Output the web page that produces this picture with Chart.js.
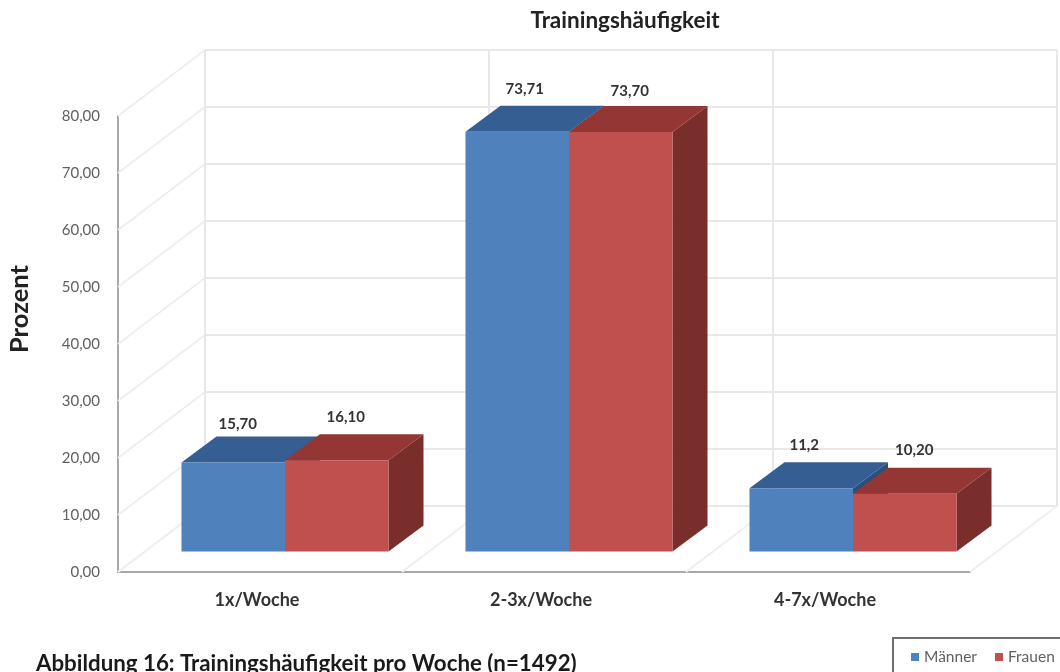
<!DOCTYPE html>
<html lang="de">
<head>
<meta charset="utf-8">
<title>Trainingshäufigkeit</title>
<style>
  html, body { margin: 0; padding: 0; background: #fff; }
  canvas { display: block; }
</style>
<script src="https://cdn.jsdelivr.net/npm/chart.js@4/dist/chart.umd.min.js"></script>
</head>
<body>
<canvas id="chart" width="1060" height="672"></canvas>
<script>
// Values per training frequency
const categories = ['1x/Woche', '2-3x/Woche', '4-7x/Woche'];
const maenner = [15.7, 73.71, 11.2];
const frauen = [16.1, 73.7, 10.2];
const maennerLabels = ['15,70', '73,71', '11,2'];
const frauenLabels = ['16,10', '73,70', '10,20'];

const chartTitle = 'Trainingshäufigkeit';
const yTitle = 'Prozent';
const caption = 'Abbildung 16: Trainingshäufigkeit pro Woche (n=1492)';

// Hand-placed data label offsets from the top centre of each bar's front face
const maennerNudge = [[4.5, -38.5], [7.5, -43], [3, -43]];
const frauenNudge = [[9, -43.5], [9, -41], [9.5, -43.5]];

// Oblique projection: wall depth, and the plane the bar fronts stand on
const WALL = { dx: 87, dy: -66 };
const BAR_PLANE = { dx: 25, dy: -20 };
const BAR_DEPTH = { dx: 35, dy: -26 };

const SHADES = [
  { front: '#4f81bd', top: '#355f92', side: '#2c4f7c' },
  { front: '#c0504d', top: '#943634', side: '#7a2e2c' }
];
const GRID = '#e8e8e8';
const GRID_SIDE = '#efefef';
const AXIS = '#a8a8a8';
const TEXT_DARK = '#333333';
const TEXT_MID = '#616161';
const FONT = 'Lato, Carlito, "Open Sans", sans-serif';

function line(ctx, x1, y1, x2, y2) {
  ctx.beginPath();
  ctx.moveTo(x1, y1);
  ctx.lineTo(x2, y2);
  ctx.stroke();
}

function poly(ctx, pts, fill) {
  ctx.fillStyle = fill;
  ctx.beginPath();
  pts.forEach((p, i) => (i ? ctx.lineTo(p[0], p[1]) : ctx.moveTo(p[0], p[1])));
  ctx.closePath();
  ctx.fill();
}

// Back wall, side wall and floor grid
const wallsPlugin = {
  id: 'walls',
  beforeDatasetsDraw(chart) {
    const { ctx, scales: { x, y } } = chart;
    const boundary = i => x.left + (x.width * i) / categories.length;
    ctx.save();
    ctx.lineWidth = 2;
    y.ticks.forEach(t => {
      const py = y.getPixelForValue(t.value);
      ctx.strokeStyle = GRID_SIDE;
      line(ctx, x.left, py, x.left + WALL.dx, py + WALL.dy);
      ctx.strokeStyle = GRID;
      line(ctx, x.left + WALL.dx, py + WALL.dy, x.right + WALL.dx, py + WALL.dy);
    });
    categories.concat(['']).forEach((_, i) => {
      const px = boundary(i);
      ctx.strokeStyle = GRID_SIDE;
      line(ctx, px, y.bottom, px + WALL.dx, y.bottom + WALL.dy);
      ctx.strokeStyle = GRID;
      line(ctx, px + WALL.dx, y.bottom + WALL.dy, px + WALL.dx, y.top + WALL.dy);
    });
    ctx.restore();
  }
};

// Top and side faces of the bars; fronts are left to the bar controller
const extrudePlugin = {
  id: 'extrude',
  beforeDatasetsDraw(chart) {
    const { ctx } = chart;
    ctx.save();
    ctx.translate(BAR_PLANE.dx, BAR_PLANE.dy);
    chart.data.datasets.forEach((ds, d) => {
      chart.getDatasetMeta(d).data.forEach(bar => {
        const { x, y, base, width } = bar.getProps(['x', 'y', 'base', 'width'], true);
        const l = x - width / 2, r = x + width / 2;
        const { dx, dy } = BAR_DEPTH;
        poly(ctx, [[r, y], [r + dx, y + dy], [r + dx, base + dy], [r, base]], SHADES[d].side);
        poly(ctx, [[l, y], [r, y], [r + dx, y + dy], [l + dx, y + dy]], SHADES[d].top);
      });
    });
    ctx.restore();
    // Shift the bar fronts onto the same plane as their extrusions
    ctx.save();
    ctx.translate(BAR_PLANE.dx, BAR_PLANE.dy);
  },
  afterDatasetsDraw(chart) {
    chart.ctx.restore();
  }
};

// Title, axis title, data labels, caption and legend box
const textPlugin = {
  id: 'texts',
  afterDraw(chart) {
    const { ctx } = chart;
    ctx.save();
    ctx.textBaseline = 'middle';

    ctx.textAlign = 'center';
    ctx.fillStyle = '#222222';
    ctx.font = 'bold 22.5px ' + FONT;
    ctx.fillText(chartTitle, 625, 21);

    ctx.save();
    ctx.translate(20, 309);
    ctx.rotate(-Math.PI / 2);
    ctx.font = 'bold 25.5px ' + FONT;
    ctx.fillText(yTitle, 0, 0);
    ctx.restore();

    const sets = [[maennerLabels, maennerNudge], [frauenLabels, frauenNudge]];
    ctx.font = 'bold 15px ' + FONT;
    ctx.fillStyle = TEXT_DARK;
    sets.forEach(([labels, nudge], d) => {
      chart.getDatasetMeta(d).data.forEach((bar, i) => {
        const { x, y } = bar.getProps(['x', 'y'], true);
        ctx.fillText(labels[i], x + BAR_PLANE.dx + nudge[i][0], y + BAR_PLANE.dy + nudge[i][1]);
      });
    });

    ctx.textAlign = 'left';
    ctx.textBaseline = 'alphabetic';
    ctx.fillStyle = '#1a1a1a';
    ctx.font = 'bold 22.3px ' + FONT;
    ctx.fillText(caption, 36, 671);

    // Legend frame runs off the lower right corner of the page
    ctx.fillStyle = '#ffffff';
    ctx.fillRect(893, 638, 170, 40);
    ctx.strokeStyle = '#6e6e6e';
    ctx.lineWidth = 2;
    ctx.strokeRect(893, 638, 170, 40);

    const swatchX = [911, 995];
    ctx.textBaseline = 'middle';
    ctx.font = '15.5px ' + FONT;
    chart.data.datasets.forEach((ds, d) => {
      ctx.fillStyle = ds.backgroundColor;
      ctx.fillRect(swatchX[d], 653, 8, 8);
      ctx.fillStyle = TEXT_MID;
      ctx.fillText(ds.label, swatchX[d] + 13, 657);
    });
    ctx.restore();
  }
};

new Chart(document.getElementById('chart'), {
  type: 'bar',
  data: {
    labels: categories,
    datasets: [
      { label: 'Männer', data: maenner, backgroundColor: SHADES[0].front, clip: false },
      { label: 'Frauen', data: frauen, backgroundColor: SHADES[1].front, clip: false }
    ]
  },
  options: {
    responsive: false,
    animation: false,
    events: [],
    layout: { padding: { top: 116, right: 90, bottom: 0, left: 0 } },
    datasets: { bar: { categoryPercentage: 0.729, barPercentage: 1 } },
    plugins: { legend: { display: false }, title: { display: false }, tooltip: { enabled: false } },
    scales: {
      x: {
        afterFit(scale) { scale.height = 100; },
        grid: { drawOnChartArea: false, drawTicks: false },
        border: { display: true, color: AXIS, width: 2 },
        ticks: {
          padding: 17,
          labelOffset: -3,
          maxRotation: 0,
          color: TEXT_DARK,
          font: { family: FONT, size: 18, weight: 'bold' }
        }
      },
      y: {
        min: 0,
        max: 80,
        afterFit(scale) { scale.width = 118; },
        grid: { drawOnChartArea: false, drawTicks: false },
        border: { display: true, color: AXIS, width: 2 },
        ticks: {
          stepSize: 10,
          padding: 18,
          color: TEXT_MID,
          font: { family: FONT, size: 15 },
          callback: v => v.toFixed(2).replace('.', ',')
        }
      }
    }
  },
  plugins: [wallsPlugin, extrudePlugin, textPlugin]
});
</script>
</body>
</html>
